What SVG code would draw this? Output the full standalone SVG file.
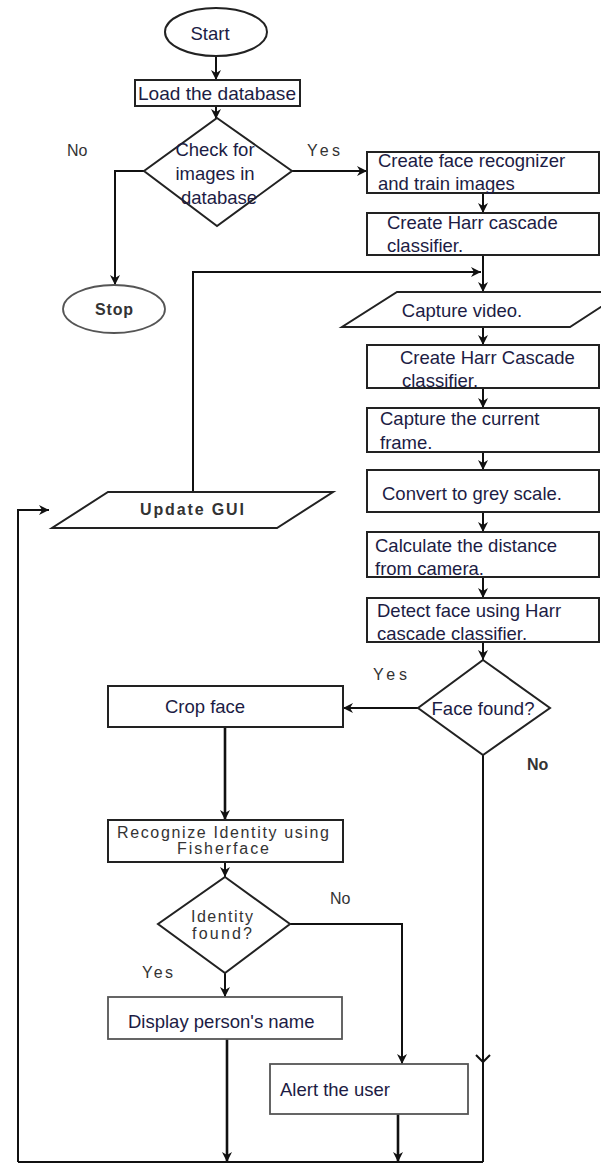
<svg xmlns="http://www.w3.org/2000/svg" width="601" height="1164" viewBox="0 0 601 1164">
<style>
.box{fill:#fff;stroke:#222;stroke-width:2}
.gbox{fill:#fff;stroke:#555;stroke-width:1.8}
.ln{fill:none;stroke:#111;stroke-width:2}
.thick{fill:none;stroke:#111;stroke-width:2.6}
.c{font-family:"Liberation Sans",Arial,sans-serif;font-size:18.5px;fill:#1c1c44}
.a{font-family:"Liberation Sans",Arial,sans-serif;font-size:16px;fill:#333}
.m{text-anchor:middle}
</style>
<defs>
<marker id="arr" markerUnits="userSpaceOnUse" markerWidth="12" markerHeight="12" refX="10" refY="5" orient="auto">
<path d="M0,0 L10,5 L0,10 L3,5 Z" fill="#111"/>
</marker>
</defs>
<rect width="601" height="1164" fill="#fff"/>
<g id="connectors">
<path class="ln" d="M216,57 V80" marker-end="url(#arr)"/>
<path class="ln" d="M216,106 V119" marker-end="url(#arr)"/>
<path class="ln" d="M144,171 H115 V285" marker-end="url(#arr)"/>
<path class="ln" d="M292,171 H367" marker-end="url(#arr)"/>
<path class="ln" d="M483,193 V213" marker-end="url(#arr)"/>
<path class="ln" d="M483,255 V292" marker-end="url(#arr)"/>
<path class="ln" d="M193,492 V272 H481" marker-end="url(#arr)"/>
<path class="ln" d="M483,327 V345" marker-end="url(#arr)"/>
<path class="ln" d="M483,388 V408" marker-end="url(#arr)"/>
<path class="ln" d="M483,452 V470" marker-end="url(#arr)"/>
<path class="ln" d="M483,512 V532" marker-end="url(#arr)"/>
<path class="ln" d="M483,577 V598" marker-end="url(#arr)"/>
<path class="ln" d="M483,642 V660" marker-end="url(#arr)"/>
<path class="ln" d="M418,708 H343" marker-end="url(#arr)"/>
<path class="thick" d="M225,727 V820" marker-end="url(#arr)"/>
<path class="ln" d="M225,862 V877" marker-end="url(#arr)"/>
<path class="ln" d="M290,924 H402 V1064" marker-end="url(#arr)"/>
<path class="ln" d="M225,973 V997" marker-end="url(#arr)"/>
<path class="thick" d="M227,1039 V1162" marker-end="url(#arr)"/>
<path class="thick" d="M398,1114 V1162" marker-end="url(#arr)"/>
<path class="ln" d="M483,755 V1162"/>
<path class="ln" d="M476,1055 L483,1062 L490,1055"/>
<path class="ln" d="M18,1162 H483"/>
<path class="ln" d="M18,1162 V510 H49" marker-end="url(#arr)"/>
</g>
<g id="start"><ellipse cx="216" cy="32" rx="51" ry="24" class="box" stroke-width="1.8"/><text class="c m" x="210" y="39.5" font-size="21">Start</text></g>
<g id="load"><rect class="box" x="135" y="80" width="165" height="26"/><text class="c" x="138" y="99.5" textLength="158" lengthAdjust="spacingAndGlyphs">Load the database</text></g>
<g id="check"><polygon class="box" points="217,118 292,171 217,226 144,171"/><text class="c m" x="215" y="155.5">Check for</text><text class="c m" x="215" y="179.5">images in</text><text class="c m" x="219" y="203.5">database</text></g>
<text class="a" x="67" y="155.5">No</text>
<text class="a" x="307" y="155.5" textLength="33">Yes</text>
<g id="stop"><ellipse cx="114" cy="309" rx="51" ry="24" class="gbox"/><text class="a m" x="114" y="314.5" font-weight="bold" textLength="38">Stop</text></g>
<g id="recognizer"><rect class="box" x="367" y="152" width="232" height="41"/><text class="c" x="378" y="166.5">Create face recognizer</text><text class="c" x="378" y="189.5">and train images</text></g>
<g id="harr1"><rect class="box" x="367" y="213" width="232" height="42"/><text class="c" x="387" y="228.5">Create Harr cascade</text><text class="c" x="387" y="251.5">classifier.</text></g>
<g id="capture"><polygon class="box" points="397,292 624,292 570,327 342,327"/><text class="c m" x="462" y="316.5">Capture video.</text></g>
<g id="harr2"><rect class="box" x="367" y="345" width="232" height="43"/><text class="c" x="400" y="363.5">Create Harr Cascade</text><text class="c" x="402" y="386.5">classifier.</text></g>
<g id="frame"><rect class="box" x="367" y="408" width="232" height="44"/><text class="c" x="380" y="424.5">Capture the current</text><text class="c" x="380" y="449">frame.</text></g>
<g id="grey"><rect class="box" x="367" y="470" width="232" height="42"/><text class="c" x="382" y="499.5">Convert to grey scale.</text></g>
<g id="distance"><rect class="box" x="367" y="532" width="232" height="45"/><text class="c" x="375" y="551.5">Calculate the distance</text><text class="c" x="375" y="574.5">from camera.</text></g>
<g id="detect"><rect class="box" x="367" y="598" width="232" height="44"/><text class="c" x="377" y="616.5">Detect face using Harr</text><text class="c" x="377" y="639.5">cascade classifier.</text></g>
<g id="facefound"><polygon class="box" points="483,660 550,708 483,755 418,708"/><text class="c m" x="483" y="714.5" font-size="18">Face found?</text></g>
<text class="a" x="373" y="680" textLength="34">Yes</text>
<text class="a" x="527" y="770" font-weight="bold" font-size="15">No</text>
<g id="crop"><rect class="box" x="108" y="686" width="235" height="41"/><text class="c m" x="205" y="712.5">Crop face</text></g>
<g id="identify"><rect class="box" x="108" y="820" width="235" height="42"/><text class="a m" x="223" y="837.5" textLength="212" lengthAdjust="spacing">Recognize Identity using</text><text class="a m" x="223" y="854" textLength="92" lengthAdjust="spacing">Fisherface</text></g>
<g id="identityfound"><polygon class="box" points="225,877 290,924 225,973 158,924"/><text class="a m" x="222" y="921.5" textLength="62">Identity</text><text class="a m" x="222" y="938.5" textLength="60">found?</text></g>
<text class="a" x="330" y="904">No</text>
<text class="a" x="142" y="977.5" textLength="31">Yes</text>
<g id="display"><rect class="gbox" x="108" y="997" width="234" height="42"/><text class="c" x="128" y="1027.5">Display person's name</text></g>
<g id="alert"><rect class="gbox" x="270" y="1064" width="198" height="50"/><text class="c" x="280" y="1095.5">Alert the user</text></g>
<g id="update"><polygon class="box" points="108,492 333,492 277,528 52,528"/><text class="a m" x="192" y="514.5" font-weight="bold" font-size="17" textLength="104" lengthAdjust="spacing">Update GUI</text></g>
</svg>
